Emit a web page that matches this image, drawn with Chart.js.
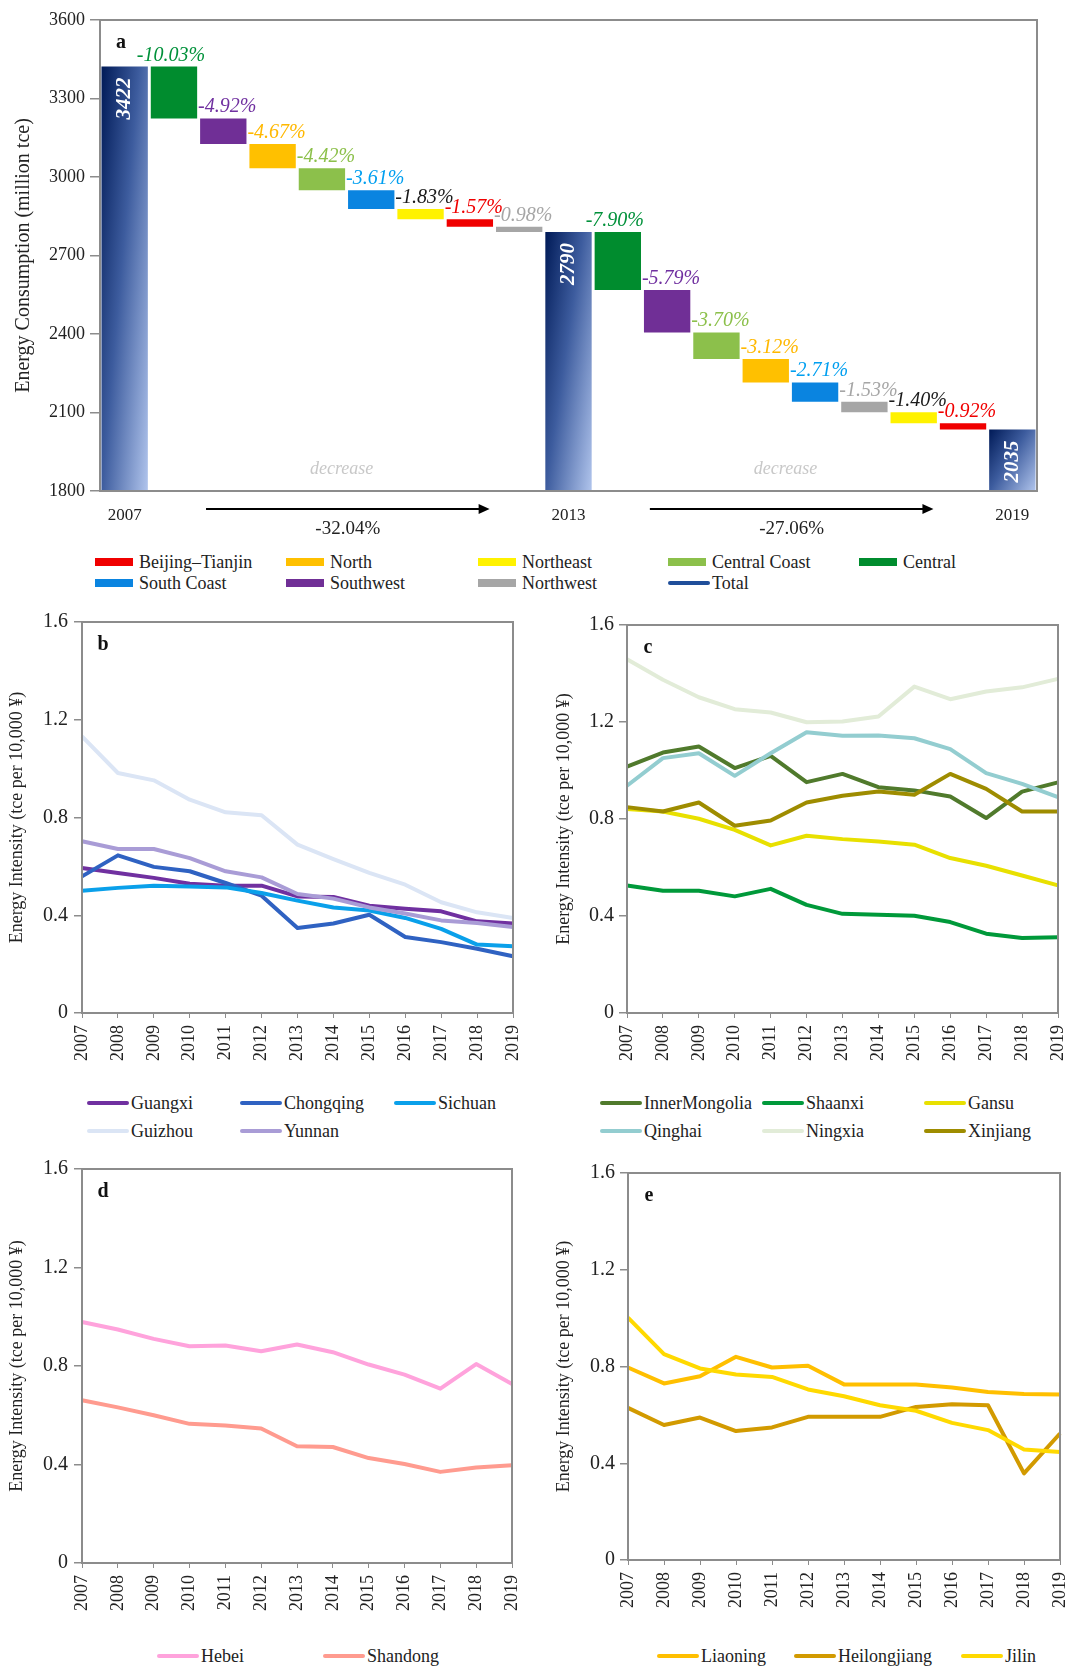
<!DOCTYPE html>
<html>
<head>
<meta charset="utf-8">
<script src="https://cdn.jsdelivr.net/npm/chart.js@4.4.1/dist/chart.umd.min.js"></script>
<style>
  html, body { margin: 0; padding: 0; background: #fff; }
  #page { position: relative; width: 1067px; height: 1666px; overflow: hidden; }
  #page canvas { position: absolute; }
  .lg { position: absolute; height: 22px; display: flex; align-items: center;
        font: 18px "Liberation Serif", "Times New Roman", serif; color: #222; white-space: nowrap; }
  .box { display: inline-block; width: 38px; height: 8px; margin-right: 6px; }
  .line { display: inline-block; width: 42px; height: 4px; border-radius: 2px; margin-right: 2px; }
</style>
</head>
<body>
<div id="page">
  <canvas id="chartA" width="1067" height="540" style="left:0;top:0;width:1067px;height:540px"></canvas>
  <canvas id="chartB" width="533" height="480" style="left:0;top:600px;width:533px;height:480px"></canvas>
  <canvas id="chartC" width="534" height="480" style="left:533px;top:600px;width:534px;height:480px"></canvas>
  <canvas id="chartD" width="533" height="480" style="left:0;top:1150px;width:533px;height:480px"></canvas>
  <canvas id="chartE" width="534" height="480" style="left:533px;top:1150px;width:534px;height:480px"></canvas>
</div>
<script>
/* ===== DATA : panel a (waterfall, million tce) ===== */
const totalYears = ["2007", "2013", "2019"];
const totals = [3422, 2790, 2035];

const regions1 = ["Central", "Southwest", "North", "Central Coast", "South Coast", "Northeast", "Beijing–Tianjin", "Northwest"];
const drops1 = [198, 98, 93, 84, 71, 39, 29, 20];
const pct1 = ["-10.03%", "-4.92%", "-4.67%", "-4.42%", "-3.61%", "-1.83%", "-1.57%", "-0.98%"];

const regions2 = ["Central", "Southwest", "Central Coast", "North", "South Coast", "Northwest", "Northeast", "Beijing–Tianjin"];
const drops2 = [222, 162, 102, 89, 74, 40, 42, 24];
const pct2 = ["-7.90%", "-5.79%", "-3.70%", "-3.12%", "-2.71%", "-1.53%", "-1.40%", "-0.92%"];

const periodChange = ["-32.04%", "-27.06%"];
const legendA = ["Beijing–Tianjin", "North", "Northeast", "Central Coast", "Central", "South Coast", "Southwest", "Northwest", "Total"];

/* ===== DATA : panels b-e (tce per 10,000 yuan) ===== */
const years = ["2007", "2008", "2009", "2010", "2011", "2012", "2013", "2014", "2015", "2016", "2017", "2018", "2019"];

const guangxi   = [0.593, 0.573, 0.553, 0.529, 0.521, 0.521, 0.477, 0.475, 0.439, 0.427, 0.416, 0.375, 0.366];
const chongqing = [0.559, 0.645, 0.598, 0.580, 0.532, 0.480, 0.348, 0.366, 0.402, 0.311, 0.290, 0.263, 0.232];
const sichuan   = [0.500, 0.512, 0.521, 0.518, 0.514, 0.491, 0.460, 0.432, 0.419, 0.389, 0.344, 0.280, 0.273];
const guizhou   = [1.132, 0.982, 0.952, 0.873, 0.821, 0.809, 0.689, 0.630, 0.573, 0.525, 0.453, 0.412, 0.389];
const yunnan    = [0.703, 0.671, 0.671, 0.634, 0.580, 0.555, 0.487, 0.468, 0.432, 0.407, 0.379, 0.368, 0.352];

const innerMongolia = [1.016, 1.074, 1.099, 1.010, 1.060, 0.952, 0.986, 0.931, 0.918, 0.893, 0.804, 0.913, 0.951];
const shaanxi       = [0.526, 0.504, 0.504, 0.481, 0.512, 0.446, 0.409, 0.405, 0.401, 0.375, 0.327, 0.309, 0.312];
const gansu         = [0.841, 0.831, 0.801, 0.755, 0.691, 0.731, 0.717, 0.707, 0.694, 0.639, 0.607, 0.567, 0.526];
const qinghai       = [0.937, 1.051, 1.071, 0.978, 1.071, 1.158, 1.143, 1.144, 1.133, 1.088, 0.989, 0.945, 0.890];
const ningxia       = [1.459, 1.374, 1.302, 1.253, 1.239, 1.199, 1.202, 1.223, 1.346, 1.294, 1.326, 1.343, 1.378];
const xinjiang      = [0.849, 0.831, 0.868, 0.772, 0.794, 0.868, 0.896, 0.913, 0.900, 0.986, 0.924, 0.831, 0.831];

const hebei    = [0.979, 0.948, 0.910, 0.880, 0.883, 0.860, 0.887, 0.856, 0.806, 0.765, 0.708, 0.808, 0.727];
const shandong = [0.661, 0.632, 0.600, 0.565, 0.558, 0.546, 0.474, 0.471, 0.426, 0.402, 0.370, 0.388, 0.397];

const liaoning     = [0.796, 0.730, 0.760, 0.840, 0.796, 0.803, 0.726, 0.726, 0.726, 0.713, 0.695, 0.686, 0.684];
const heilongjiang = [0.629, 0.558, 0.589, 0.533, 0.548, 0.592, 0.592, 0.592, 0.633, 0.644, 0.640, 0.358, 0.523];
const jilin        = [1.002, 0.851, 0.792, 0.767, 0.757, 0.705, 0.677, 0.640, 0.617, 0.567, 0.537, 0.457, 0.447];

/* ===== STYLE ===== */
const SERIF = '"Liberation Serif", "Times New Roman", serif';
const TEXT = "#222";
const FRAME = "#8c8c8c";

const regionColor = {
    "Beijing–Tianjin": "#f00000",
    "North": "#ffc000",
    "Northeast": "#fff200",
    "Central Coast": "#8cc04b",
    "Central": "#008c2e",
    "South Coast": "#0a84e0",
    "Southwest": "#702f96",
    "Northwest": "#a6a6a6",
    "Total": "#1f4e9a"
};
const labelColor = {
    "Beijing–Tianjin": "#f00000",
    "North": "#ffb800",
    "Northeast": "#1a1a1a",
    "Central Coast": "#8cc04b",
    "Central": "#00913a",
    "South Coast": "#009ff0",
    "Southwest": "#7030a0",
    "Northwest": "#a6a6a6"
};

Chart.defaults.font.family = SERIF;
Chart.defaults.color = TEXT;

/* ===== BUILD WATERFALL SERIES ===== */
const catsA = [];
const barsA = [];
const notesA = [];
const totalAt = [];
let level = totals[0];
[[regions1, drops1, pct1], [regions2, drops2, pct2]].forEach(([regs, drops, pcts], p) => {
    catsA.push(totalYears[p]); barsA.push(totals[p]); notesA.push(null); totalAt.push(catsA.length - 1);
    level = totals[p];
    regs.forEach((r, i) => {
        catsA.push(r);
        barsA.push([level - drops[i], level]);
        notesA.push({ text: pcts[i], color: labelColor[r], first: i === 0 });
        level -= drops[i];
    });
});
catsA.push(totalYears[2]); barsA.push(totals[2]); notesA.push(null); totalAt.push(catsA.length - 1);

const BAR_PCT = 0.94;

function barFill(c) {
    const i = c.dataIndex;
    if (notesA[i]) return regionColor[catsA[i]];
    const chart = c.chart, area = chart.chartArea;
    if (!area) return "#2d4d8f";
    const xs = chart.scales.x, ys = chart.scales.y;
    const w = (area.right - area.left) / catsA.length * BAR_PCT;
    const xl = xs.getPixelForValue(i) - w / 2;
    const yt = ys.getPixelForValue(barsA[i]);
    const h = area.bottom - yt;
    const a = 0.55 / w, b = 0.45 / h, s = a * a + b * b;
    const g = chart.ctx.createLinearGradient(xl, yt, xl + a / s, yt + b / s);
    g.addColorStop(0, "#001a57");
    g.addColorStop(0.45, "#3d5c9e");
    g.addColorStop(1, "#b0c4ec");
    return g;
}

/* ===== PLUGINS ===== */
const framePlugin = {
    id: "frame",
    afterDatasetsDraw(chart, args, opts) {
        const { ctx, chartArea: a } = chart;
        ctx.save();
        ctx.strokeStyle = FRAME;
        ctx.lineWidth = 2;
        ctx.strokeRect(a.left, a.top, a.right - a.left, a.bottom - a.top);
        ctx.fillStyle = "#111";
        ctx.font = "bold 20px " + SERIF;
        ctx.textAlign = "center";
        ctx.textBaseline = "middle";
        ctx.fillText(opts.tag, a.left + 21, a.top + 23);
        ctx.restore();
    }
};

const waterfallNotes = {
    id: "waterfallNotes",
    afterDatasetsDraw(chart) {
        const { ctx, chartArea: area, scales: { x } } = chart;
        const bars = chart.getDatasetMeta(0).data;
        ctx.save();
        bars.forEach((bar, i) => {
            const top = Math.min(bar.y, bar.base);
            const note = notesA[i];
            if (!note) {
                ctx.save();
                ctx.translate(bar.x, top + 11);
                ctx.rotate(-Math.PI / 2);
                ctx.fillStyle = "#fff";
                ctx.font = "italic bold 21px " + SERIF;
                ctx.textAlign = "right";
                ctx.textBaseline = "middle";
                ctx.fillText(String(barsA[i]), 0, 0);
                ctx.restore();
                return;
            }
            ctx.fillStyle = note.color;
            ctx.font = "italic 20px " + SERIF;
            ctx.textBaseline = "alphabetic";
            if (note.first) {
                ctx.textAlign = "center";
                ctx.fillText(note.text, bar.x - 3, top - 6);
            } else {
                ctx.textAlign = "left";
                ctx.fillText(note.text, bar.x - bar.width / 2 - 2, top - 6);
            }
        });

        totalAt.slice(0, -1).forEach((ti, k) => {
            // faint "decrease" note
            ctx.fillStyle = "#c8c8c8";
            ctx.font = "italic 18px " + SERIF;
            ctx.textAlign = "center";
            ctx.textBaseline = "middle";
            ctx.fillText("decrease", x.getPixelForValue(ti + 4.4), area.bottom - 22);

            // period arrow
            const x0 = x.getPixelForValue(ti + 1.65), x1 = x.getPixelForValue(ti + 7.4);
            const ya = area.bottom + 18;
            ctx.strokeStyle = "#000";
            ctx.lineWidth = 2;
            ctx.beginPath(); ctx.moveTo(x0, ya); ctx.lineTo(x1 - 8, ya); ctx.stroke();
            ctx.fillStyle = "#000";
            ctx.beginPath(); ctx.moveTo(x1, ya); ctx.lineTo(x1 - 11, ya - 5); ctx.lineTo(x1 - 11, ya + 5); ctx.closePath(); ctx.fill();

            ctx.fillStyle = TEXT;
            ctx.font = "19px " + SERIF;
            ctx.fillText(periodChange[k], (x0 + x1) / 2, area.bottom + 38);
        });
        ctx.restore();
    }
};

/* ===== PANEL a ===== */
new Chart(document.getElementById("chartA"), {
    type: "bar",
    data: {
        labels: catsA,
        datasets: [{
            data: barsA,
            backgroundColor: barFill,
            borderWidth: 0,
            barPercentage: BAR_PCT,
            categoryPercentage: 1
        }]
    },
    options: {
        responsive: false,
        animation: false,
        events: [],
        layout: { padding: { top: 20, right: 30, left: 0, bottom: 0 } },
        plugins: { legend: { display: false }, tooltip: { enabled: false }, frame: { tag: "a" } },
        scales: {
            x: {
                grid: { display: false, drawTicks: false },
                border: { display: false },
                ticks: {
                    autoSkip: false, maxRotation: 0, padding: 14,
                    font: { size: 17 },
                    callback: (v, i) => (notesA[i] ? "" : catsA[i])
                },
                afterFit: s => { s.height = 49; s.paddingLeft = 0; s.paddingRight = 0; }
            },
            y: {
                min: 1800, max: 3600,
                ticks: { stepSize: 300, padding: 5, font: { size: 18 }, callback: v => String(v) },
                grid: { drawOnChartArea: false, drawTicks: true, tickLength: 10, color: FRAME, lineWidth: 1.5 },
                border: { display: false },
                title: { display: true, text: "Energy Consumption (million tce)", font: { size: 20 }, padding: { top: 12, bottom: 0 } },
                afterFit: s => { s.width = 100; s.paddingTop = 0; s.paddingBottom = 0; }
            }
        }
    },
    plugins: [waterfallNotes, framePlugin]
});

/* ===== PANELS b-e ===== */
function lineChart(id, tag, names, series, colors, box) {
    new Chart(document.getElementById(id), {
        type: "line",
        data: {
            labels: years,
            datasets: series.map((s, i) => ({
                label: names[i],
                data: s,
                borderColor: colors[i],
                borderWidth: 4,
                pointRadius: 0,
                tension: 0,
                fill: false,
                borderJoinStyle: "round",
                order: -i
            }))
        },
        options: {
            responsive: false,
            animation: false,
            events: [],
            layout: { padding: { top: box.top, right: box.right, left: 0, bottom: 0 } },
            plugins: { legend: { display: false }, tooltip: { enabled: false }, frame: { tag } },
            scales: {
                x: {
                    grid: { drawOnChartArea: false, drawTicks: true, tickLength: 5, color: FRAME },
                    border: { display: false },
                    ticks: { autoSkip: false, minRotation: 90, maxRotation: 90, padding: 7, font: { size: 18 } },
                    afterFit: s => { s.height = box.xh; s.paddingLeft = 0; s.paddingRight = 0; }
                },
                y: {
                    min: 0, max: 1.6,
                    ticks: { stepSize: 0.4, padding: box.tp, font: { size: 20 } },
                    grid: { drawOnChartArea: false, drawTicks: true, tickLength: 8, color: FRAME, lineWidth: 1.5 },
                    border: { display: false },
                    title: { display: true, text: "Energy Intensity (tce per 10,000 ¥)", font: { size: 18 }, padding: { top: box.tt, bottom: 0 } },
                    afterFit: s => { s.width = box.yw; s.paddingTop = 0; s.paddingBottom = 0; }
                }
            }
        },
        plugins: [framePlugin]
    });
}

const namesB = ["Guangxi", "Chongqing", "Sichuan", "Guizhou", "Yunnan"];
const colorsB = ["#7030a0", "#2f62c2", "#0aa0ea", "#dbe5f5", "#a99cd6"];
const namesC = ["InnerMongolia", "Shaanxi", "Gansu", "Qinghai", "Ningxia", "Xinjiang"];
const colorsC = ["#507a2c", "#00993a", "#e8e000", "#93cdd0", "#e2ecd8", "#9e8c00"];
const namesD = ["Hebei", "Shandong"];
const colorsD = ["#ffa3dc", "#ff9b8f"];
const namesE = ["Liaoning", "Heilongjiang", "Jilin"];
const colorsE = ["#ffbf00", "#d29a00", "#ffd900"];

lineChart("chartB", "b", namesB, [guangxi, chongqing, sichuan, guizhou, yunnan], colorsB,
    { top: 22, right: 20, xh: 67, yw: 82, tp: 6, tt: 6 });
lineChart("chartC", "c", namesC, [innerMongolia, shaanxi, gansu, qinghai, ningxia, xinjiang], colorsC,
    { top: 25, right: 9, xh: 67, yw: 94, tp: 5, tt: 20 });
lineChart("chartD", "d", namesD, [hebei, shandong], colorsD,
    { top: 19, right: 21, xh: 67, yw: 82, tp: 6, tt: 6 });
lineChart("chartE", "e", namesE, [liaoning, heilongjiang, jilin], colorsE,
    { top: 23, right: 7, xh: 70, yw: 95, tp: 5, tt: 20 });

/* ===== HTML LEGENDS ===== */
const page = document.getElementById("page");
function addLegend(names, colors, cols, rows, kind) {
    names.forEach((name, i) => {
        const item = document.createElement("div");
        item.className = "lg";
        item.style.left = cols[i % cols.length] + "px";
        item.style.top = (rows[Math.floor(i / cols.length)] - 11) + "px";
        const sw = document.createElement("span");
        sw.className = kind(name);
        sw.style.background = colors[i];
        item.appendChild(sw);
        item.appendChild(document.createTextNode(name));
        page.appendChild(item);
    });
}

addLegend(legendA, legendA.map(n => regionColor[n]), [95, 286, 478, 668, 859], [562, 583],
    n => (n === "Total" ? "line" : "box"));
addLegend(namesB, colorsB, [87, 240, 394], [1103, 1131], () => "line");
addLegend(namesC, colorsC, [600, 762, 924], [1103, 1131], () => "line");
addLegend(namesD, colorsD, [157, 323], [1656], () => "line");
addLegend(namesE, colorsE, [657, 794, 961], [1656], () => "line");
</script>
</body>
</html>
